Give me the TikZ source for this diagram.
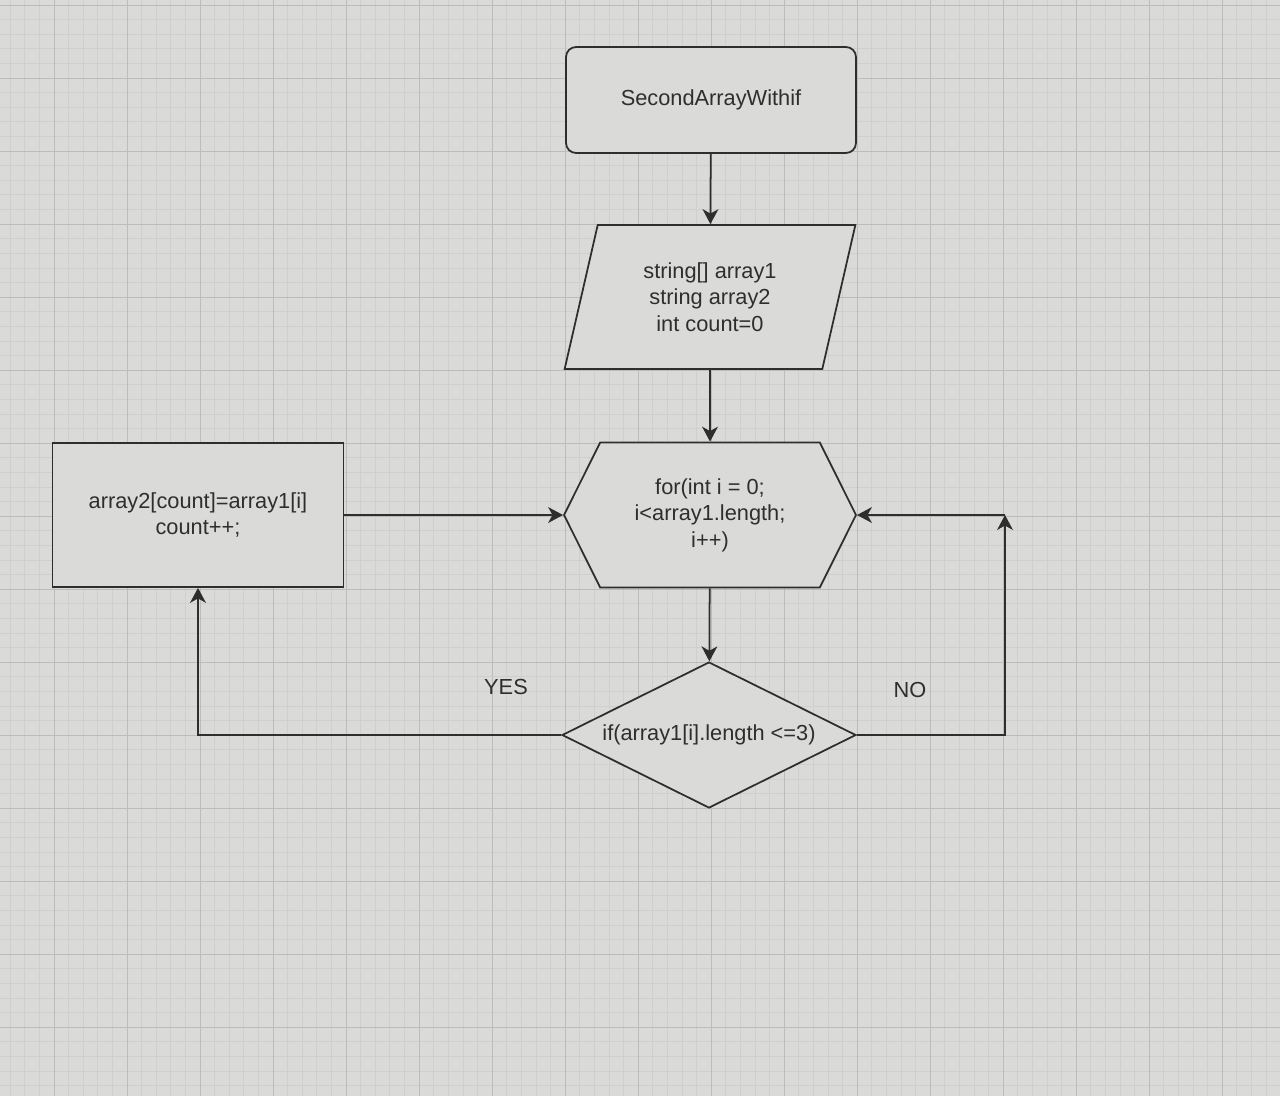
\documentclass[tikz,border=0pt]{standalone}
\usepackage{fontspec}
\setmainfont{Liberation Sans}
\usetikzlibrary{arrows.meta}
\usetikzlibrary{shapes.geometric, shapes.symbols}
\definecolor{screen}{HTML}{DADBD9}
\definecolor{minorgrid}{HTML}{CFD0CE}
\definecolor{majorgrid}{HTML}{BCBDBB}
\definecolor{ink}{HTML}{2E2E2E}

\begin{document}
\begin{tikzpicture}[
            x=0.02cm, y=-0.02cm,
            font=\fontsize{12.4}{15.1}\selectfont,
            block/.style={draw=ink, line width=1pt, fill=screen, text=ink, align=center, inner sep=1pt},
            startbox/.style={block, rectangle, rounded corners=0.2cm, minimum width=5.8cm, minimum height=2.12cm},
            inputbox/.style={block, trapezium, trapezium left angle=74.5, trapezium right angle=105.5, trapezium stretches=true, minimum width=5.84cm, minimum height=2.88cm},
            loopbox/.style={block, signal, signal to=west and east, signal pointer angle=127, minimum width=5.84cm, minimum height=2.9cm},
            condbox/.style={block, diamond, aspect=2, minimum width=5.88cm, minimum height=2.92cm},
            actionbox/.style={block, rectangle, minimum width=5.82cm, minimum height=2.88cm},
            flow/.style={-{Stealth[length=8.5pt, width=9pt, inset=2.5pt]}, line width=1pt, ink},
            branch/.style={text=ink},
        ]
            % --- Fondo con la cuadricula ---
            \useasboundingbox[fill=screen] (0,0) rectangle (1280,1096);
            \foreach \i in {0,...,88} {
                \draw[minorgrid, line width=0.35pt] ({10.2+\i*14.6},0) -- ({10.2+\i*14.6},1096);
            }
            \foreach \j in {0,...,75} {
                \draw[minorgrid, line width=0.35pt] (0,{5+\j*14.6}) -- (1280,{5+\j*14.6});
            }
            \foreach \i in {0,...,17} {
                \draw[majorgrid, line width=0.55pt] ({54+\i*73},0) -- ({54+\i*73},1096);
            }
            \foreach \j in {0,...,14} {
                \draw[majorgrid, line width=0.55pt] (0,{5+\j*73}) -- (1280,{5+\j*73});
            }

            % --- Bloques del diagrama ---
            \node[startbox] (start) at (711,100) {SecondArrayWithif};
            \node[inputbox] (input) at (710,297) {string[] array1\\string array2\\int count=0};
            \node[loopbox] (loop) at (710,515) {for(int i = 0;\\i<array1.length;\\i++)};
            \node[condbox] (cond) at (709,735) {if(array1[i].length <=3)};
            \node[actionbox] (action) at (198,515) {array2[count]=array1[i]\\count++;};
            \coordinate (back) at (1005,515);

            % --- Conexiones ---
            \draw[flow] (start) -- (input);
            \draw[flow] (input) -- (loop);
            \draw[flow] (loop) -- (cond);
            \draw[flow] (cond.west) -| (action.south);
            \draw[flow] (action.east) -- (loop.west);
            \draw[flow] (cond.east) -| (back);
            \draw[flow] (back) -- (loop.east);

            % --- Etiquetas ---
            \node[branch] (yes) at (506,687) {YES};
            \node[branch] (no) at (910,690) {NO};
        \end{tikzpicture}
\end{document}
